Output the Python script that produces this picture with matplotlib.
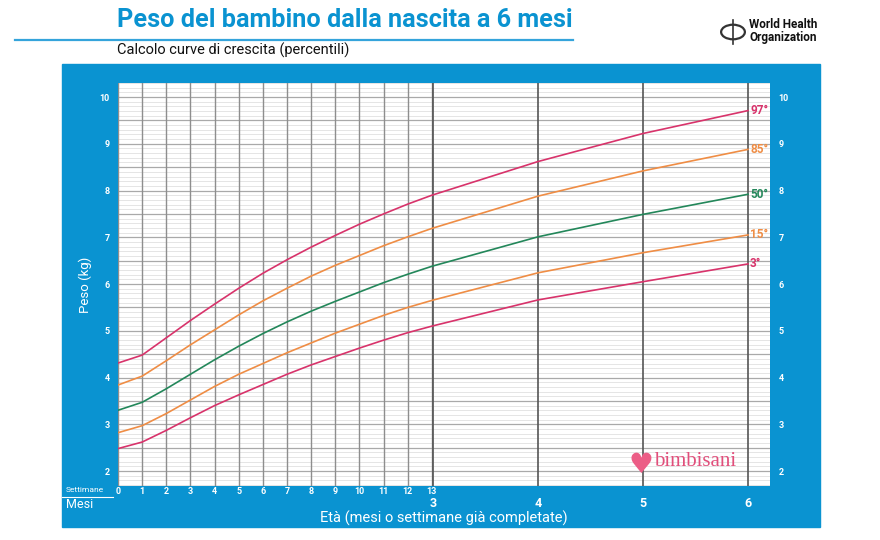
import matplotlib
matplotlib.use('Agg')
import matplotlib.pyplot as plt
import numpy as np
from matplotlib.patches import Rectangle, Circle
from matplotlib.lines import Line2D
from matplotlib.transforms import blended_transform_factory

plt.rcParams['font.family'] = ['Roboto', 'DejaVu Sans']

BLUE = '#0a93d1'
PINK = '#d8336b'
ORANGE = '#ef8d45'
GREEN = '#23875a'

# ages: weeks 0-13, then months 4-6 (x axis is in days)
weeks = list(range(14))
months = [3, 4, 5, 6]
DAYS_PER_MONTH = 30.4375
x_days = [7 * w for w in weeks] + [m * DAYS_PER_MONTH for m in months[1:]]

# WHO weight-for-age percentiles (kg)
p3 = [2.48, 2.62, 2.87, 3.14, 3.40, 3.63, 3.85, 4.07, 4.27, 4.45, 4.63, 4.80, 4.96, 5.10,
      5.66, 6.05, 6.43]
p15 = [2.82, 2.97, 3.23, 3.52, 3.81, 4.07, 4.30, 4.53, 4.74, 4.95, 5.14, 5.33, 5.50, 5.65,
       6.24, 6.67, 7.05]
p50 = [3.30, 3.47, 3.76, 4.07, 4.38, 4.67, 4.94, 5.19, 5.42, 5.63, 5.83, 6.03, 6.21, 6.38,
       7.01, 7.49, 7.92]
p85 = [3.84, 4.03, 4.36, 4.70, 5.02, 5.34, 5.64, 5.91, 6.17, 6.40, 6.61, 6.82, 7.01, 7.19,
       7.88, 8.42, 8.88]
p97 = [4.31, 4.48, 4.85, 5.22, 5.57, 5.91, 6.23, 6.52, 6.79, 7.04, 7.28, 7.50, 7.71, 7.90,
       8.62, 9.22, 9.71]

curves = [
    (p97, '97°', PINK),
    (p85, '85°', ORANGE),
    (p50, '50°', GREEN),
    (p15, '15°', ORANGE),
    (p3, '3°', PINK),
]
kg_ticks = list(range(2, 11))

fig = plt.figure(figsize=(8.8, 5.4), dpi=100)
fig.patch.set_facecolor('white')

# blue panel behind the chart
panel = Rectangle((62 / 880, 1 - 527 / 540), 758 / 880, 463 / 540,
                  transform=fig.transFigure, color=BLUE, zorder=-1)
fig.add_artist(panel)

ax = fig.add_axes([118 / 880, 1 - 486 / 540, 652 / 880, 403 / 540])
ax.set_zorder(2)
ax.set_facecolor('white')
ax.set_xlim(0, 189)
ax.set_ylim(1.68, 10.3)

# grid: fine lines every 100 g, darker every 500 g
for v in np.arange(1.7, 10.31, 0.1):
    ax.axhline(v, color='#e0e0e0', lw=0.6, zorder=1)
for v in np.arange(2, 10.01, 0.5):
    ax.axhline(v, color='#a9a9a9', lw=0.9, zorder=1)
for w in weeks:
    ax.axvline(7 * w, color='#8e8e8e', lw=1.0, zorder=2)
for m in months:
    ax.axvline(m * DAYS_PER_MONTH, color='#555555', lw=1.2, zorder=2)

for vals, lab, col in curves:
    ax.plot(x_days, vals, color=col, lw=1.2, zorder=3, solid_joinstyle='round')
    ax.text(x_days[-1] + 0.6, vals[-1], lab, color=col, fontsize=8.5, fontweight='bold',
            ha='left', va='center', zorder=4)

for s in ax.spines.values():
    s.set_visible(False)
ax.set_xticks([])
ax.set_yticks(kg_ticks)
ax.set_yticklabels([str(k) for k in kg_ticks])
ax.tick_params(axis='y', length=0, pad=6, colors='white', labelsize=6.5,
               labelleft=True, labelright=True)
for t in ax.get_yticklabels():
    t.set_fontweight('bold')

ax.set_ylabel('Peso (kg)', color='white', fontsize=9.5, labelpad=5)

trans = blended_transform_factory(ax.transData, ax.transAxes)
for w in weeks:
    ax.text(7 * w, -0.013, str(w), transform=trans, color='white', fontsize=6.5,
            fontweight='bold', ha='center', va='center')
for m in months:
    ax.text(m * DAYS_PER_MONTH, -0.043, str(m), transform=trans, color='white', fontsize=9,
            fontweight='bold', ha='center', va='center')
ax.text(0.5, -0.081, 'Età (mesi o settimane già completate)', transform=ax.transAxes,
        color='white', fontsize=10.5, ha='center', va='center')

fig.text(66 / 880, 1 - 490 / 540, 'Settimane', color='white', fontsize=6, va='center')
fig.add_artist(Line2D([62 / 880, 113 / 880], [1 - 496.5 / 540] * 2, color='white', lw=0.8))
fig.text(66 / 880, 1 - 504 / 540, 'Mesi', color='white', fontsize=9, va='center')

# bimbisani mark
ax.text(151.5, 2.12, '♥', color='#ec5d86', fontsize=20, ha='center', va='center', zorder=4,
        family='DejaVu Sans')
ax.text(155.5, 2.2, 'bimbisani', color='#e14f7b', fontsize=15, ha='left', va='center',
        zorder=5, family='Liberation Serif')

# header
fig.text(117 / 880, 1 - 20 / 540, 'Peso del bambino dalla nascita a 6 mesi', color=BLUE,
         fontsize=18.2, fontweight='bold', va='center')
fig.add_artist(Line2D([15 / 880, 573 / 880], [1 - 40 / 540] * 2, color='#35a4db', lw=1.6))
fig.text(117 / 880, 1 - 50 / 540, 'Calcolo curve di crescita (percentili)', color='#111111',
         fontsize=10.5, va='center')

# WHO emblem + name
fig.add_artist(Circle((733 / 880, 1 - 32 / 540), 0.0135, transform=fig.transFigure,
                      fill=False, ec='#333333', lw=1.6))
fig.add_artist(Line2D([733 / 880] * 2, [1 - 20 / 540, 1 - 44 / 540], color='#333333', lw=1.2))
fig.text(749 / 880, 1 - 25 / 540, 'World Health', color='#111111', fontsize=8.5,
         fontweight='bold', va='center')
fig.text(749 / 880, 1 - 38 / 540, 'Organization', color='#111111', fontsize=8.5,
         fontweight='bold', va='center')

fig.savefig('out.png', dpi=100)
